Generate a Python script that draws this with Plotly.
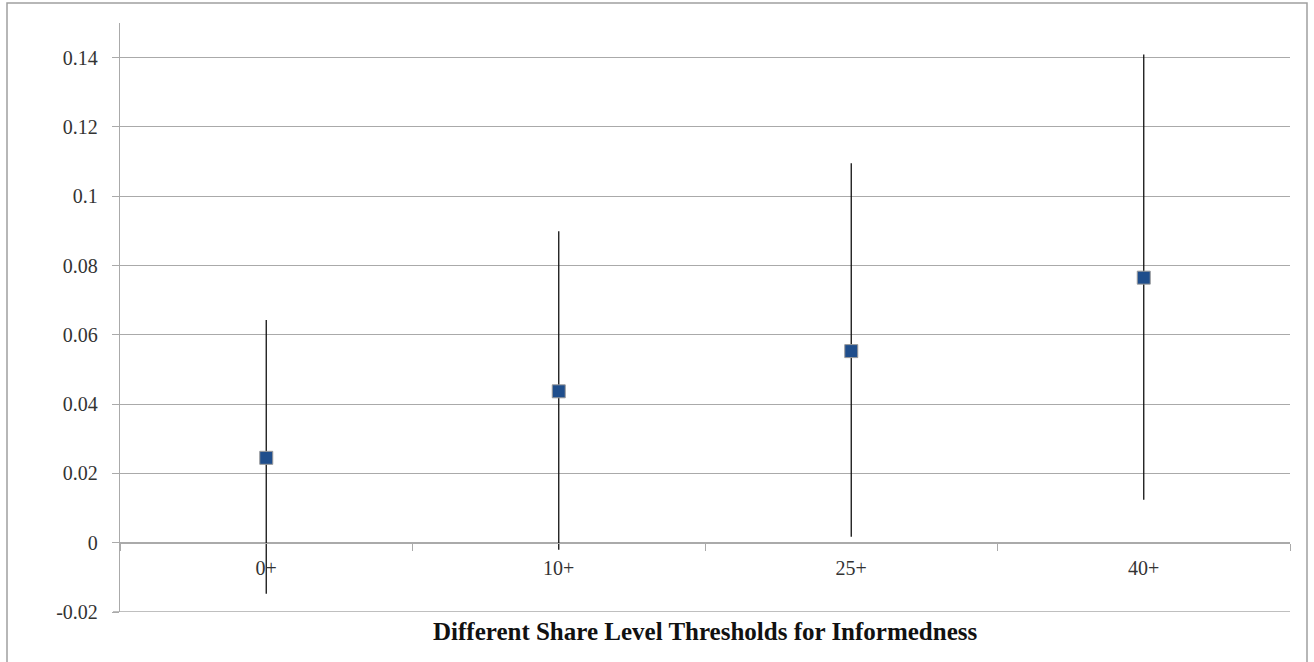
import plotly.graph_objects as go

categories = ["0+", "10+", "25+", "40+"]
estimates = [0.0245, 0.0437, 0.0553, 0.0765]
upper = [0.0643, 0.0899, 0.1095, 0.1409]
lower = [-0.0147, -0.0020, 0.0017, 0.0124]
y_ticks = [-0.02, 0, 0.02, 0.04, 0.06, 0.08, 0.1, 0.12, 0.14]
y_tick_labels = ["-0.02", "0", "0.02", "0.04", "0.06", "0.08", "0.1", "0.12", "0.14"]

W, H = 1314, 662
ML, MR, MT, MB = 120, 24, 23, 50
Y0, Y1 = -0.02, 0.15

err_plus = [u - e for u, e in zip(upper, estimates)]
err_minus = [e - l for e, l in zip(estimates, lower)]

fig = go.Figure()
fig.add_trace(go.Scatter(
    x=categories, y=estimates, mode="markers",
    marker=dict(symbol="square", size=13, color="#1F4E8C",
                line=dict(color="#9a9a9a", width=1)),
    error_y=dict(type="data", symmetric=False, array=err_plus,
                 arrayminus=err_minus, width=0, thickness=1.3, color="#111111"),
    showlegend=False,
))

pw = W - ML - MR
ph = H - MT - MB
# outer frame
fig.add_shape(type="rect", xref="paper", yref="paper",
              x0=(7 - ML) / pw, x1=(1307 - ML) / pw,
              y0=-(H + 5 - MT - ph) / ph, y1=1 + (MT - 3) / ph,
              line=dict(color="#a0a0a0", width=1.5), fillcolor="rgba(0,0,0,0)", layer="below")
# bottom gridline at -0.02
fig.add_shape(type="line", xref="paper", yref="y", x0=-7 / pw, x1=1, y0=Y0, y1=Y0,
              line=dict(color="#aaaaaa", width=1.3), layer="below")

zero_pos = (0 - Y0) / (Y1 - Y0)

fig.update_layout(
    width=W, height=H,
    margin=dict(l=ML, r=MR, t=MT, b=MB),
    paper_bgcolor="white", plot_bgcolor="white",
    font=dict(family="Liberation Serif", size=20, color="#222222"),
    xaxis=dict(
        type="category", range=[-0.5, 3.5], anchor="free", position=zero_pos,
        showline=True, linecolor="#aaaaaa", linewidth=1.3,
        ticks="outside", ticklen=7, tickcolor="#aaaaaa", tickwidth=1.3,
        tickson="boundaries", showgrid=False, zeroline=False,
        ticklabelstandoff=7,
        tickfont=dict(family="Liberation Serif", size=20, color="#333333"),
    ),
    yaxis=dict(
        range=[Y0, Y1], tickvals=y_ticks, ticktext=y_tick_labels,
        showline=True, linecolor="#aaaaaa", linewidth=1.3,
        ticks="outside", ticklen=7, tickcolor="#aaaaaa", tickwidth=1.3,
        showgrid=True, gridcolor="#aaaaaa", gridwidth=1.3,
        zeroline=True, zerolinecolor="#aaaaaa", zerolinewidth=1.3,
        ticklabelstandoff=10,
        tickfont=dict(family="Liberation Serif", size=20, color="#333333"),
    ),
    annotations=[dict(
        text="<b>Different Share Level Thresholds for Informedness</b>",
        xref="paper", yref="paper", x=0.5, y=-(631 - MT - ph) / ph,
        showarrow=False, xanchor="center", yanchor="middle",
        font=dict(family="Liberation Serif", size=25, color="#111111"),
    )],
)

fig.write_html("out.html", config={"displayModeBar": False},
               post_script="document.body.style.margin='0px';")
